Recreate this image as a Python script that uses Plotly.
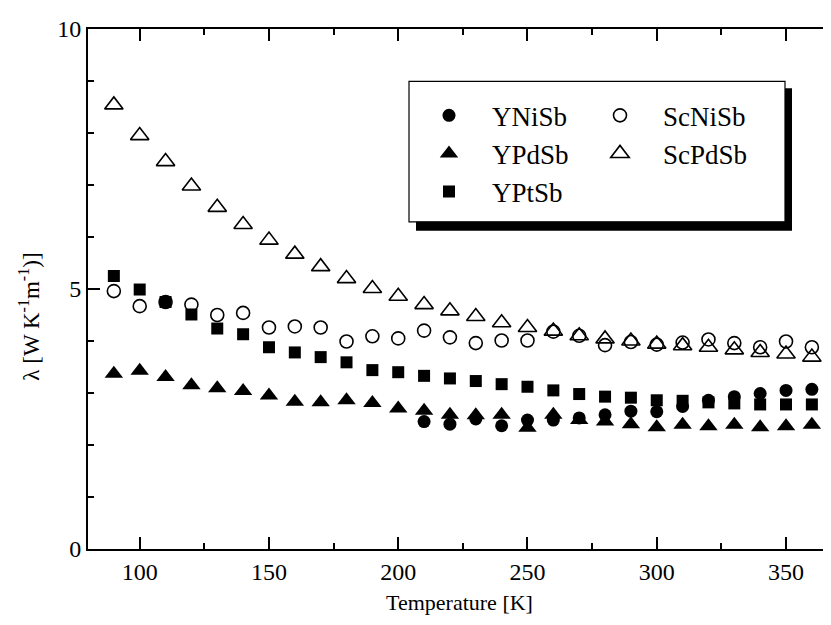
import plotly.graph_objects as go

T = [90, 100, 110, 120, 130, 140, 150, 160, 170, 180, 190, 200, 210, 220,
     230, 240, 250, 260, 270, 280, 290, 300, 310, 320, 330, 340, 350, 360]
T_YNiSb = [210, 220, 230, 240, 250, 260, 270, 280, 290, 300, 310, 320, 330, 340, 350, 360]

YNiSb = [2.45, 2.40, 2.50, 2.37, 2.48, 2.48, 2.52, 2.58, 2.65, 2.64, 2.74, 2.86,
         2.93, 2.99, 3.05, 3.07]
YPdSb = [3.37, 3.43, 3.31, 3.15, 3.09, 3.04, 2.95, 2.83, 2.82, 2.86, 2.81, 2.70,
         2.66, 2.58, 2.57, 2.58, 2.33, 2.58, 2.48, 2.45, 2.40, 2.34, 2.39, 2.36,
         2.39, 2.34, 2.36, 2.39]
YPtSb = [5.25, 4.99, 4.75, 4.51, 4.24, 4.13, 3.88, 3.78, 3.69, 3.59, 3.44, 3.40,
         3.33, 3.28, 3.23, 3.17, 3.12, 3.05, 2.98, 2.93, 2.91, 2.86, 2.85, 2.82,
         2.80, 2.78, 2.78, 2.78]
ScNiSb = [4.96, 4.67, 4.75, 4.70, 4.50, 4.54, 4.26, 4.28, 4.26, 3.99, 4.09, 4.05,
          4.20, 4.07, 3.96, 4.01, 4.01, 4.18, 4.10, 3.92, 3.98, 3.93, 3.97, 4.03,
          3.96, 3.88, 3.99, 3.88]
ScPdSb = [8.54, 7.95, 7.45, 6.98, 6.57, 6.24, 5.94, 5.67, 5.43, 5.20, 5.01, 4.86,
          4.70, 4.58, 4.47, 4.35, 4.26, 4.19, 4.10, 4.04, 4.00, 3.94, 3.91, 3.88,
          3.83, 3.78, 3.75, 3.69]

FONT = "Liberation Serif"
fig = go.Figure()

def add(x, y, name, symbol, size, legend, group, open_=False):
    marker = dict(symbol=symbol, size=size, color="black")
    if open_:
        marker = dict(symbol=symbol, size=size, color="black", line=dict(color="black", width=1.6))
    fig.add_trace(go.Scatter(x=x, y=y, mode="markers", name=name, marker=marker,
                             legend=legend, legendgroup=group, cliponaxis=False))

add(T_YNiSb, YNiSb, "YNiSb", "circle", 13, "legend", "a")
add(T, YPdSb, "YPdSb", "triangle-up", 16, "legend", "b")
add(T, YPtSb, "YPtSb", "square", 12, "legend", "c")
add(T, ScNiSb, "ScNiSb", "circle-open", 13, "legend2", "d", True)
add(T, ScPdSb, "ScPdSb", "triangle-up-open", 16, "legend2", "e", True)

# page body has an 8px margin: work in screen pixels, convert to figure pixels
OFF = 8
L, R, TOP, BOT = 88 - OFF, 831 - OFF, 23 - OFF, 549 - OFF
W, H = R - L, BOT - TOP

def px(x):
    return (x - OFF - L) / W

def py(y):
    return (BOT - (y - OFF)) / H

fig.add_shape(type="rect", xref="paper", yref="paper",
              x0=px(416), x1=px(792), y0=py(227), y1=py(83),
              fillcolor="black", line=dict(width=0), layer="below")
fig.add_shape(type="rect", xref="paper", yref="paper",
              x0=px(409), x1=px(785), y0=py(218), y1=py(76),
              fillcolor="white", line=dict(color="black", width=1.2), layer="below")

legfont = dict(family=FONT, size=27, color="black")
fig.update_layout(
    width=831, height=625,
    margin=dict(l=L, r=831 - R, t=TOP, b=625 - BOT),
    paper_bgcolor="white", plot_bgcolor="rgba(0,0,0,0)",
    font=dict(family=FONT, size=24, color="black"),
    showlegend=True,
    legend=dict(x=px(406), y=py(86), xanchor="left", yanchor="top",
                bgcolor="rgba(0,0,0,0)", borderwidth=0, font=legfont,
                itemwidth=76, tracegroupgap=3, traceorder="normal"),
    legend2=dict(x=px(577), y=py(86), xanchor="left", yanchor="top",
                 bgcolor="rgba(0,0,0,0)", borderwidth=0, font=legfont,
                 itemwidth=76, tracegroupgap=3, traceorder="normal"),
    xaxis=dict(range=[80, 367.4], tick0=0, dtick=50, ticks="inside", ticklen=12,
               tickwidth=2, tickcolor="black", showline=True, linewidth=2,
               linecolor="black", mirror="ticks", showgrid=False, zeroline=False,
               minor=dict(dtick=25, tick0=0, ticks="inside", ticklen=6, tickwidth=2,
                          tickcolor="black", showgrid=False),
               tickfont=dict(family=FONT, size=24),
               title=dict(text="Temperature [K]", font=dict(family=FONT, size=22), standoff=11)),
    yaxis=dict(range=[0, 10], tick0=0, dtick=5, ticks="inside", ticklen=12,
               tickwidth=2, tickcolor="black", showline=True, linewidth=2,
               linecolor="black", mirror=False, showgrid=False, zeroline=False,
               minor=dict(dtick=1, ticks="inside", ticklen=6, tickwidth=2,
                          tickcolor="black", showgrid=False),
               tickfont=dict(family=FONT, size=24)),
    annotations=[dict(text="λ [W K<sup>-1</sup>m<sup>-1</sup>)]", xref="paper", yref="paper",
                      x=px(30), y=py(314), textangle=-90, showarrow=False,
                      font=dict(family=FONT, size=23, color="black"),
                      xanchor="center", yanchor="middle")],
)

fig.write_html("out.html")
